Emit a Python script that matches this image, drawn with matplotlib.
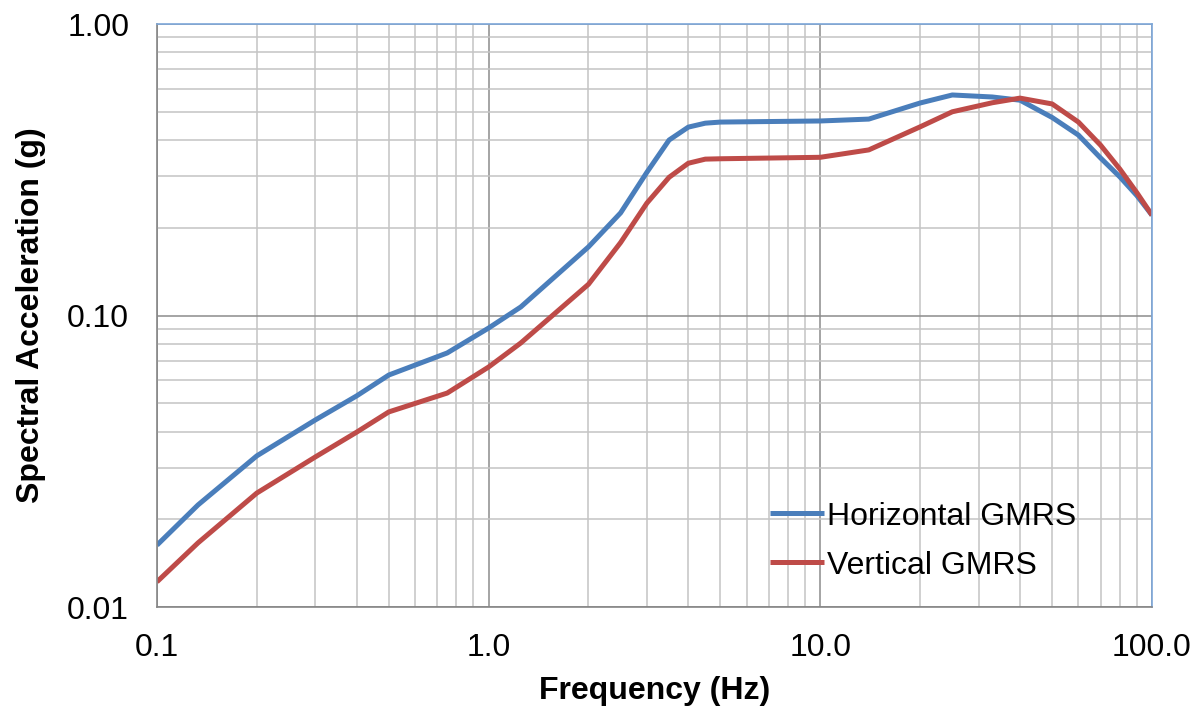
import matplotlib
matplotlib.use("Agg")
import matplotlib.pyplot as plt
from matplotlib.ticker import FixedLocator, FixedFormatter, NullFormatter, LogLocator

plt.rcParams['font.family'] = ['Liberation Sans', 'DejaVu Sans']

# spectral data
freq = [0.1, 0.133, 0.2, 0.3, 0.4, 0.5, 0.75, 1.0, 1.25, 2.0, 2.5, 3.0, 3.5, 4.0, 4.5,
        5.0, 10.0, 14.0, 20.0, 25.0, 33.0, 40.0, 50.0, 60.0, 70.0, 80.0, 90.0, 100.0]
horiz = [0.0163, 0.0224, 0.033, 0.0438, 0.053, 0.0625, 0.0744, 0.0906, 0.107, 0.172,
         0.225, 0.31, 0.40, 0.443, 0.457, 0.461, 0.465, 0.472, 0.536, 0.571, 0.562,
         0.548, 0.478, 0.416, 0.347, 0.299, 0.258, 0.221]
vert = [0.0122, 0.0166, 0.0246, 0.0327, 0.0398, 0.0467, 0.0542, 0.0666, 0.0805, 0.128,
        0.178, 0.243, 0.298, 0.333, 0.344, 0.345, 0.349, 0.370, 0.444, 0.500, 0.537,
        0.557, 0.532, 0.461, 0.384, 0.318, 0.264, 0.221]

xticks = [0.1, 1.0, 10.0, 100.0]
xlabels = ['0.1', '1.0', '10.0', '100.0']
yticks = [0.01, 0.1, 1.0]
ylabels = ['0.01', '0.10', '1.00']

fig = plt.figure(figsize=(11.98, 7.07), dpi=100)
ax = fig.add_axes([0.131, 0.1414, 0.8306, 0.8246])

ax.plot(freq, horiz, color='#4A7EBB', lw=3.6, label='Horizontal GMRS',
        solid_joinstyle='round', solid_capstyle='butt')
ax.plot(freq, vert, color='#BE4B48', lw=3.6, label='Vertical GMRS',
        solid_joinstyle='round', solid_capstyle='butt')

ax.set_xscale('log')
ax.set_yscale('log')
ax.set_xlim(0.1, 100)
ax.set_ylim(0.01, 1.0)

ax.xaxis.set_major_locator(FixedLocator(xticks))
ax.xaxis.set_major_formatter(FixedFormatter(xlabels))
ax.yaxis.set_major_locator(FixedLocator(yticks))
ax.yaxis.set_major_formatter(FixedFormatter(ylabels))
ax.xaxis.set_minor_locator(LogLocator(base=10, subs=range(2, 10)))
ax.yaxis.set_minor_locator(LogLocator(base=10, subs=range(2, 10)))
ax.xaxis.set_minor_formatter(NullFormatter())
ax.yaxis.set_minor_formatter(NullFormatter())

ax.tick_params(which='both', length=0)
ax.tick_params(axis='x', labelsize=23, pad=19)
ax.tick_params(axis='y', labelsize=23, pad=20)

ax.grid(which='major', color='#8C8C8C', lw=1.1)
ax.grid(which='minor', color='#C4C4C4', lw=1.1)
ax.set_axisbelow(True)

for s in ['left', 'bottom']:
    ax.spines[s].set_color('#868686')
    ax.spines[s].set_linewidth(1.2)
for s in ['top', 'right']:
    ax.spines[s].set_color('#7DA7D9')
    ax.spines[s].set_linewidth(1.2)

ax.set_xlabel('Frequency (Hz)', fontsize=23, fontweight='bold', labelpad=9)
ax.set_ylabel('Spectral Acceleration (g)', fontsize=23, fontweight='bold', labelpad=15)

ax.legend(loc='upper left', bbox_to_anchor=(0.616, 0.181), frameon=False, fontsize=23,
          handlelength=1.7, handletextpad=0.1, labelspacing=0.6, borderpad=0,
          borderaxespad=0)

fig.savefig('out.png', dpi=100)
